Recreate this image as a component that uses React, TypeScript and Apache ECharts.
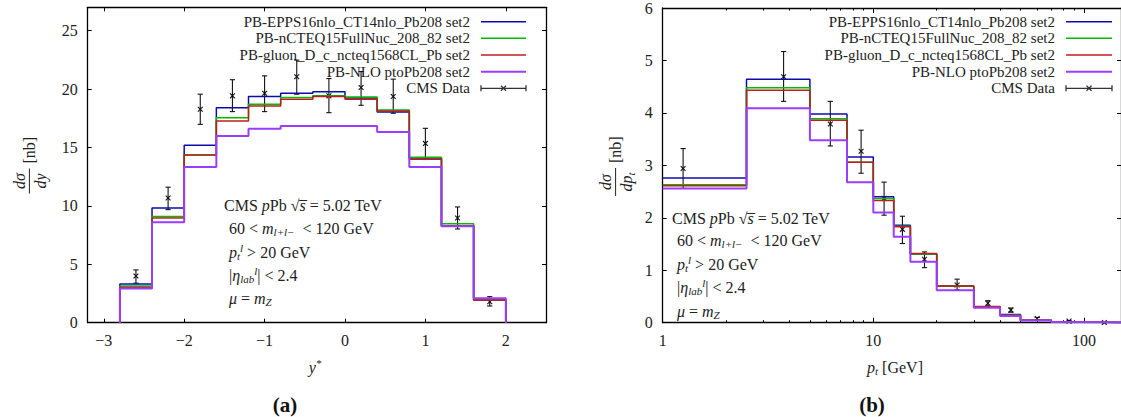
import React, { useEffect, useRef } from "react";
import * as echarts from "echarts";

// ---------- Panel (a): rapidity ----------
const yEdges = [-2.8, -2.4, -2.0, -1.6, -1.2, -0.8, -0.4, 0, 0.4, 0.8, 1.2, 1.6, 2.0];
const yEpps = [3.32, 9.82, 15.2, 18.4, 19.36, 19.64, 19.76, 19.24, 18.04, 14.1, 8.3, 1.95];
const yNcteq = [3.15, 9.1, 14.35, 17.55, 18.7, 19.27, 19.42, 19.33, 18.21, 14.17, 8.48, 2.0];
const yGluon = [3.04, 8.96, 14.35, 17.27, 18.56, 19.13, 19.36, 19.13, 18.13, 14.0, 8.3, 1.95];
const yNlo = [2.92, 8.59, 13.32, 15.98, 16.61, 16.84, 16.84, 16.84, 16.32, 13.32, 8.25, 2.09];
const yDataX = [-2.6, -2.2, -1.8, -1.4, -1.0, -0.6, -0.2, 0.2, 0.6, 1.0, 1.4, 1.8];
const yDataV = [4.0, 10.68, 18.27, 19.42, 19.64, 21.05, 19.42, 20.13, 19.36, 15.35, 8.96, 1.8];
const yDataLo = [3.38, 9.68, 16.98, 18.07, 18.07, 19.56, 17.98, 18.61, 17.93, 13.97, 8.02, 1.43];
const yDataHi = [4.52, 11.6, 19.56, 20.8, 21.13, 22.48, 20.9, 21.5, 20.85, 16.64, 9.91, 2.23];
const yTicksX = [-3, -2, -1, 0, 1, 2];
const yTicksY = [0, 5, 10, 15, 20, 25];

// ---------- Panel (b): transverse momentum ----------
const ptEdges = [0, 2.5, 5, 7.5, 10, 12.5, 15, 20, 30, 40, 50, 70, 100, 150];
const ptEpps = [2.76, 4.64, 3.98, 3.16, 2.4, 1.86, 1.31, 0.7, 0.3, 0.155, 0.045, 0.015, 0.004];
const ptNcteq = [2.63, 4.48, 3.89, 3.06, 2.37, 1.84, 1.31, 0.7, 0.3, 0.14, 0.045, 0.015, 0.004];
const ptGluon = [2.61, 4.43, 3.86, 3.06, 2.33, 1.83, 1.32, 0.7, 0.31, 0.14, 0.045, 0.015, 0.004];
const ptNlo = [2.56, 4.09, 3.48, 2.68, 2.1, 1.64, 1.16, 0.62, 0.285, 0.13, 0.04, 0.012, 0.003];
const ptDataX = [1.25, 3.75, 6.25, 8.75, 11.25, 13.75, 17.5, 25, 35, 45, 60, 85, 125];
const ptDataV = [2.94, 4.69, 3.79, 3.27, 2.37, 1.78, 1.21, 0.72, 0.37, 0.24, 0.08, 0.03, 0.005];
const ptDataLo = [2.56, 4.22, 3.37, 2.85, 2.05, 1.51, 1.05, 0.63, 0.32, 0.2, 0.06, 0.02, 0.003];
const ptDataHi = [3.32, 5.17, 4.22, 3.67, 2.68, 2.03, 1.35, 0.83, 0.42, 0.28, 0.1, 0.04, 0.008];
const ptTicksMajor = [1, 10, 100];
const ptTicksMinor = [2, 3, 4, 5, 6, 7, 8, 9, 20, 30, 40, 50, 60, 70, 80, 90];
const ptTicksY = [0, 1, 2, 3, 4, 5, 6];

const seriesNames = [
  "PB-EPPS16nlo_CT14nlo_Pb208 set2",
  "PB-nCTEQ15FullNuc_208_82 set2",
  "PB-gluon_D_c_ncteq1568CL_Pb set2",
  "PB-NLO ptoPb208 set2",
];
const dataName = "CMS Data";
const colors = ["#0c0cae", "#00bb00", "#c01c1c", "#9b3dff"];
const widths = [1.5, 1.5, 1.5, 2];

const FONT = "'Liberation Serif', 'DejaVu Serif', serif";
const TXT = "#222";

function stepLine(edges: number[], vals: number[], minEdge: number, close: boolean) {
  const pts: number[][] = [];
  const e = edges.map((v) => Math.max(v, minEdge));
  if (close) pts.push([e[0], 0]);
  for (let i = 0; i < vals.length; i++) {
    pts.push([e[i], vals[i]]);
    pts.push([e[i + 1], vals[i]]);
  }
  if (close) pts.push([e[e.length - 1], 0]);
  return pts;
}

function errData(x: number[], v: number[], lo: number[], hi: number[]) {
  return x.map((xx, i) => [xx, v[i], lo[i], hi[i]]);
}

const errRender = (params: any, api: any) => {
  const p = api.coord([api.value(0), api.value(1)]);
  const pl = api.coord([api.value(0), api.value(2)]);
  const ph = api.coord([api.value(0), api.value(3)]);
  const st = { stroke: "#111", lineWidth: 1.1 };
  const c = 2.6;
  const m = 2.4;
  return {
    type: "group",
    children: [
      { type: "line", shape: { x1: pl[0], y1: pl[1], x2: ph[0], y2: ph[1] }, style: st },
      { type: "line", shape: { x1: pl[0] - c, y1: pl[1], x2: pl[0] + c, y2: pl[1] }, style: st },
      { type: "line", shape: { x1: ph[0] - c, y1: ph[1], x2: ph[0] + c, y2: ph[1] }, style: st },
      { type: "line", shape: { x1: p[0] - m, y1: p[1] - m, x2: p[0] + m, y2: p[1] + m }, style: st },
      { type: "line", shape: { x1: p[0] - m, y1: p[1] + m, x2: p[0] + m, y2: p[1] - m }, style: st },
    ],
  };
};

const minus = (v: number) => (v < 0 ? "\u2212" + Math.abs(v) : String(v));

const richBase = {
  r: { fontFamily: FONT, fontSize: 16, fill: TXT },
  i: { fontFamily: FONT, fontSize: 16, fill: TXT, fontStyle: "italic" },
  s: { fontFamily: FONT, fontSize: 11, fill: TXT, fontStyle: "italic", padding: [8, 0, 0, 0] },
  u: { fontFamily: FONT, fontSize: 11, fill: TXT, fontStyle: "italic", padding: [0, 0, 8, 0] },
};

function richText(x: number, y: number, text: string, align = "left") {
  return {
    type: "text",
    x,
    y,
    style: { text, align, verticalAlign: "middle", rich: richBase, fill: TXT, fontFamily: FONT, fontSize: 16 },
  };
}

function annotation(x0: number, x1: number, ys: number[]) {
  return [
    richText(x0, ys[0], "{r|CMS }{i|p}{r|Pb \u221A}{i|s\u0305}{r| = 5.02 TeV}"),
    richText(x1, ys[1], "{r|60 < }{i|m}{s|l+l\u2212}{r|  < 120 GeV}"),
    richText(x1, ys[2], "{i|p}{s|t}{u|l}{r| > 20 GeV}"),
    richText(x1, ys[3], "{r||}{i|\u03B7}{s|lab}{u|l}{r|| < 2.4}"),
    richText(x1, ys[4], "{i|\u03BC}{r| = }{i|m}{s|Z}"),
  ];
}

function legend(textRight: number, lx1: number, lx2: number, ys: number[]) {
  const els: any[] = [];
  seriesNames.forEach((n, i) => {
    els.push({
      type: "text",
      x: textRight,
      y: ys[i],
      style: { text: n, align: "right", verticalAlign: "middle", fontFamily: FONT, fontSize: 15, fill: TXT },
    });
    els.push({
      type: "line",
      shape: { x1: lx1, y1: ys[i], x2: lx2, y2: ys[i] },
      style: { stroke: colors[i], lineWidth: widths[i] },
    });
  });
  const y = ys[4];
  const mx = (lx1 + lx2) / 2;
  const st = { stroke: "#333", lineWidth: 1.3 };
  els.push({
    type: "text",
    x: textRight,
    y,
    style: { text: dataName, align: "right", verticalAlign: "middle", fontFamily: FONT, fontSize: 15, fill: TXT },
  });
  els.push({ type: "line", shape: { x1: lx1, y1: y, x2: lx2, y2: y }, style: st });
  els.push({ type: "line", shape: { x1: lx1, y1: y - 3, x2: lx1, y2: y + 3 }, style: st });
  els.push({ type: "line", shape: { x1: lx2, y1: y - 3, x2: lx2, y2: y + 3 }, style: st });
  els.push({ type: "line", shape: { x1: mx - 2.5, y1: y - 2.5, x2: mx + 2.5, y2: y + 2.5 }, style: st });
  els.push({ type: "line", shape: { x1: mx - 2.5, y1: y + 2.5, x2: mx + 2.5, y2: y - 2.5 }, style: st });
  return els;
}

function yLabel(x: number, y: number, den: string, half: number) {
  return {
    type: "group",
    x,
    y,
    rotation: Math.PI / 2,
    children: [
      richText(0, -10, "{i|d\u03C3}", "center"),
      { type: "line", shape: { x1: -half, y1: 0, x2: half, y2: 0 }, style: { stroke: TXT, lineWidth: 1 } },
      richText(0, 11, den, "center"),
      richText(half + 5, 0, "{r|[nb]}", "left"),
    ],
  };
}

const axisLineStyle = { show: true, onZero: false, lineStyle: { color: "#000", width: 1.3 } };

export default function App() {
  const ref = useRef<HTMLDivElement>(null);
  useEffect(() => {
    if (!ref.current) return;
    const chart = echarts.init(ref.current, undefined, { renderer: "svg" });
    const gridA = { left: 87.7, top: 7.3, width: 458.3, height: 315.4 };
    const gridB = { left: 662.7, top: 7.3, width: 469.2, height: 315.4 };

    const xA = { type: "value", min: -3.2, max: 2.5, gridIndex: 0 };
    const xB = { type: "log", logBase: 10, min: 1, max: 150, gridIndex: 1 };
    const yA = { type: "value", min: 0, max: 27, gridIndex: 0 };
    const yB = { type: "value", min: 0, max: 6, gridIndex: 1 };

    const lbl = { fontFamily: FONT, fontSize: 16, color: TXT };
    const hidden = { show: false, onZero: false };

    const option: any = {
      animation: false,
      grid: [gridA, gridB],
      xAxis: [
        {
          ...xA,
          position: "bottom",
          axisLine: axisLineStyle,
          splitLine: { show: false },
          axisTick: { inside: true, length: 4, customValues: yTicksX, lineStyle: { color: "#000" } },
          axisLabel: { ...lbl, margin: 10, customValues: yTicksX, formatter: (v: number) => minus(v) },
        },
        {
          ...xA,
          position: "top",
          axisLine: axisLineStyle,
          splitLine: { show: false },
          axisTick: { inside: true, length: 4, customValues: yTicksX, lineStyle: { color: "#000" } },
          axisLabel: { show: false },
        },
        {
          ...xB,
          position: "bottom",
          axisLine: axisLineStyle,
          splitLine: { show: false },
          minorTick: { show: false },
          axisTick: { inside: true, length: 5, customValues: ptTicksMajor, lineStyle: { color: "#000" } },
          axisLabel: { ...lbl, margin: 10, customValues: ptTicksMajor, formatter: (v: number) => String(Math.round(v)) },
        },
        {
          ...xB,
          position: "top",
          axisLine: axisLineStyle,
          splitLine: { show: false },
          axisTick: { inside: true, length: 5, customValues: ptTicksMajor, lineStyle: { color: "#000" } },
          axisLabel: { show: false },
        },
        {
          ...xB,
          position: "bottom",
          axisLine: hidden,
          splitLine: { show: false },
          axisTick: { inside: true, length: 2.5, customValues: ptTicksMinor, lineStyle: { color: "#000" } },
          axisLabel: { show: false },
        },
        {
          ...xB,
          position: "top",
          axisLine: hidden,
          splitLine: { show: false },
          axisTick: { inside: true, length: 2.5, customValues: ptTicksMinor, lineStyle: { color: "#000" } },
          axisLabel: { show: false },
        },
      ],
      yAxis: [
        {
          ...yA,
          position: "left",
          axisLine: axisLineStyle,
          splitLine: { show: false },
          axisTick: { inside: true, length: 4, customValues: yTicksY, lineStyle: { color: "#000" } },
          axisLabel: { ...lbl, margin: 10, customValues: yTicksY },
        },
        {
          ...yA,
          position: "right",
          axisLine: axisLineStyle,
          splitLine: { show: false },
          axisTick: { inside: true, length: 4, customValues: yTicksY, lineStyle: { color: "#000" } },
          axisLabel: { show: false },
        },
        {
          ...yB,
          position: "left",
          axisLine: axisLineStyle,
          splitLine: { show: false },
          axisTick: { inside: true, length: 4, customValues: ptTicksY, lineStyle: { color: "#000" } },
          axisLabel: { ...lbl, margin: 10, customValues: ptTicksY },
        },
        {
          ...yB,
          position: "right",
          axisLine: axisLineStyle,
          splitLine: { show: false },
          axisTick: { inside: true, length: 4, customValues: ptTicksY, lineStyle: { color: "#000" } },
          axisLabel: { show: false },
        },
      ],
      series: [] as any[],
      graphic: { elements: [] as any[] },
    };

    const aVals = [yEpps, yNcteq, yGluon, yNlo];
    const bVals = [ptEpps, ptNcteq, ptGluon, ptNlo];
    seriesNames.forEach((n, i) => {
      option.series.push({
        name: n,
        type: "line",
        xAxisIndex: 0,
        yAxisIndex: 0,
        data: stepLine(yEdges, aVals[i], -Infinity, true),
        symbol: "none",
        lineStyle: { color: colors[i], width: widths[i] },
        itemStyle: { color: colors[i] },
        silent: true,
      });
    });
    seriesNames.forEach((n, i) => {
      option.series.push({
        name: n,
        type: "line",
        xAxisIndex: 2,
        yAxisIndex: 2,
        data: stepLine(ptEdges, bVals[i], 1, false),
        symbol: "none",
        lineStyle: { color: colors[i], width: widths[i] },
        itemStyle: { color: colors[i] },
        silent: true,
      });
    });
    option.series.push({
      name: dataName,
      type: "custom",
      xAxisIndex: 0,
      yAxisIndex: 0,
      data: errData(yDataX, yDataV, yDataLo, yDataHi),
      encode: { x: 0, y: 1 },
      renderItem: errRender,
      clip: false,
      silent: true,
    });
    option.series.push({
      name: dataName,
      type: "custom",
      xAxisIndex: 2,
      yAxisIndex: 2,
      data: errData(ptDataX, ptDataV, ptDataLo, ptDataHi),
      encode: { x: 0, y: 1 },
      renderItem: errRender,
      clip: false,
      silent: true,
    });

    const rows = [21.7, 38.3, 55, 71.7, 88.3];
    option.graphic.elements = [
      ...legend(470, 481, 526, rows),
      ...legend(1055, 1066, 1112, rows),
      ...annotation(224, 229, [205, 228, 252, 275, 298]),
      ...annotation(672, 677, [218, 240, 264, 287, 311]),
      yLabel(29.4, 181, "{i|dy}", 12.5),
      yLabel(615.6, 182, "{i|dp}{s|t}", 14),
      richText(315, 367, "{i|y}{u|*}", "center"),
      richText(895, 367, "{i|p}{s|t}{r| [GeV]}", "center"),
      {
        type: "text",
        x: 285,
        y: 405,
        style: { text: "(a)", align: "center", verticalAlign: "middle", fontFamily: FONT, fontSize: 21, fontWeight: "bold", fill: "#111" },
      },
      {
        type: "text",
        x: 872,
        y: 405,
        style: { text: "(b)", align: "center", verticalAlign: "middle", fontFamily: FONT, fontSize: 21, fontWeight: "bold", fill: "#111" },
      },
    ];

    chart.setOption(option);
    return () => chart.dispose();
  }, []);
  return (
    <div
      ref={ref}
      style={{ position: "absolute", left: 0, top: 0, width: 1121, height: 417, background: "#fff" }}
    />
  );
}
